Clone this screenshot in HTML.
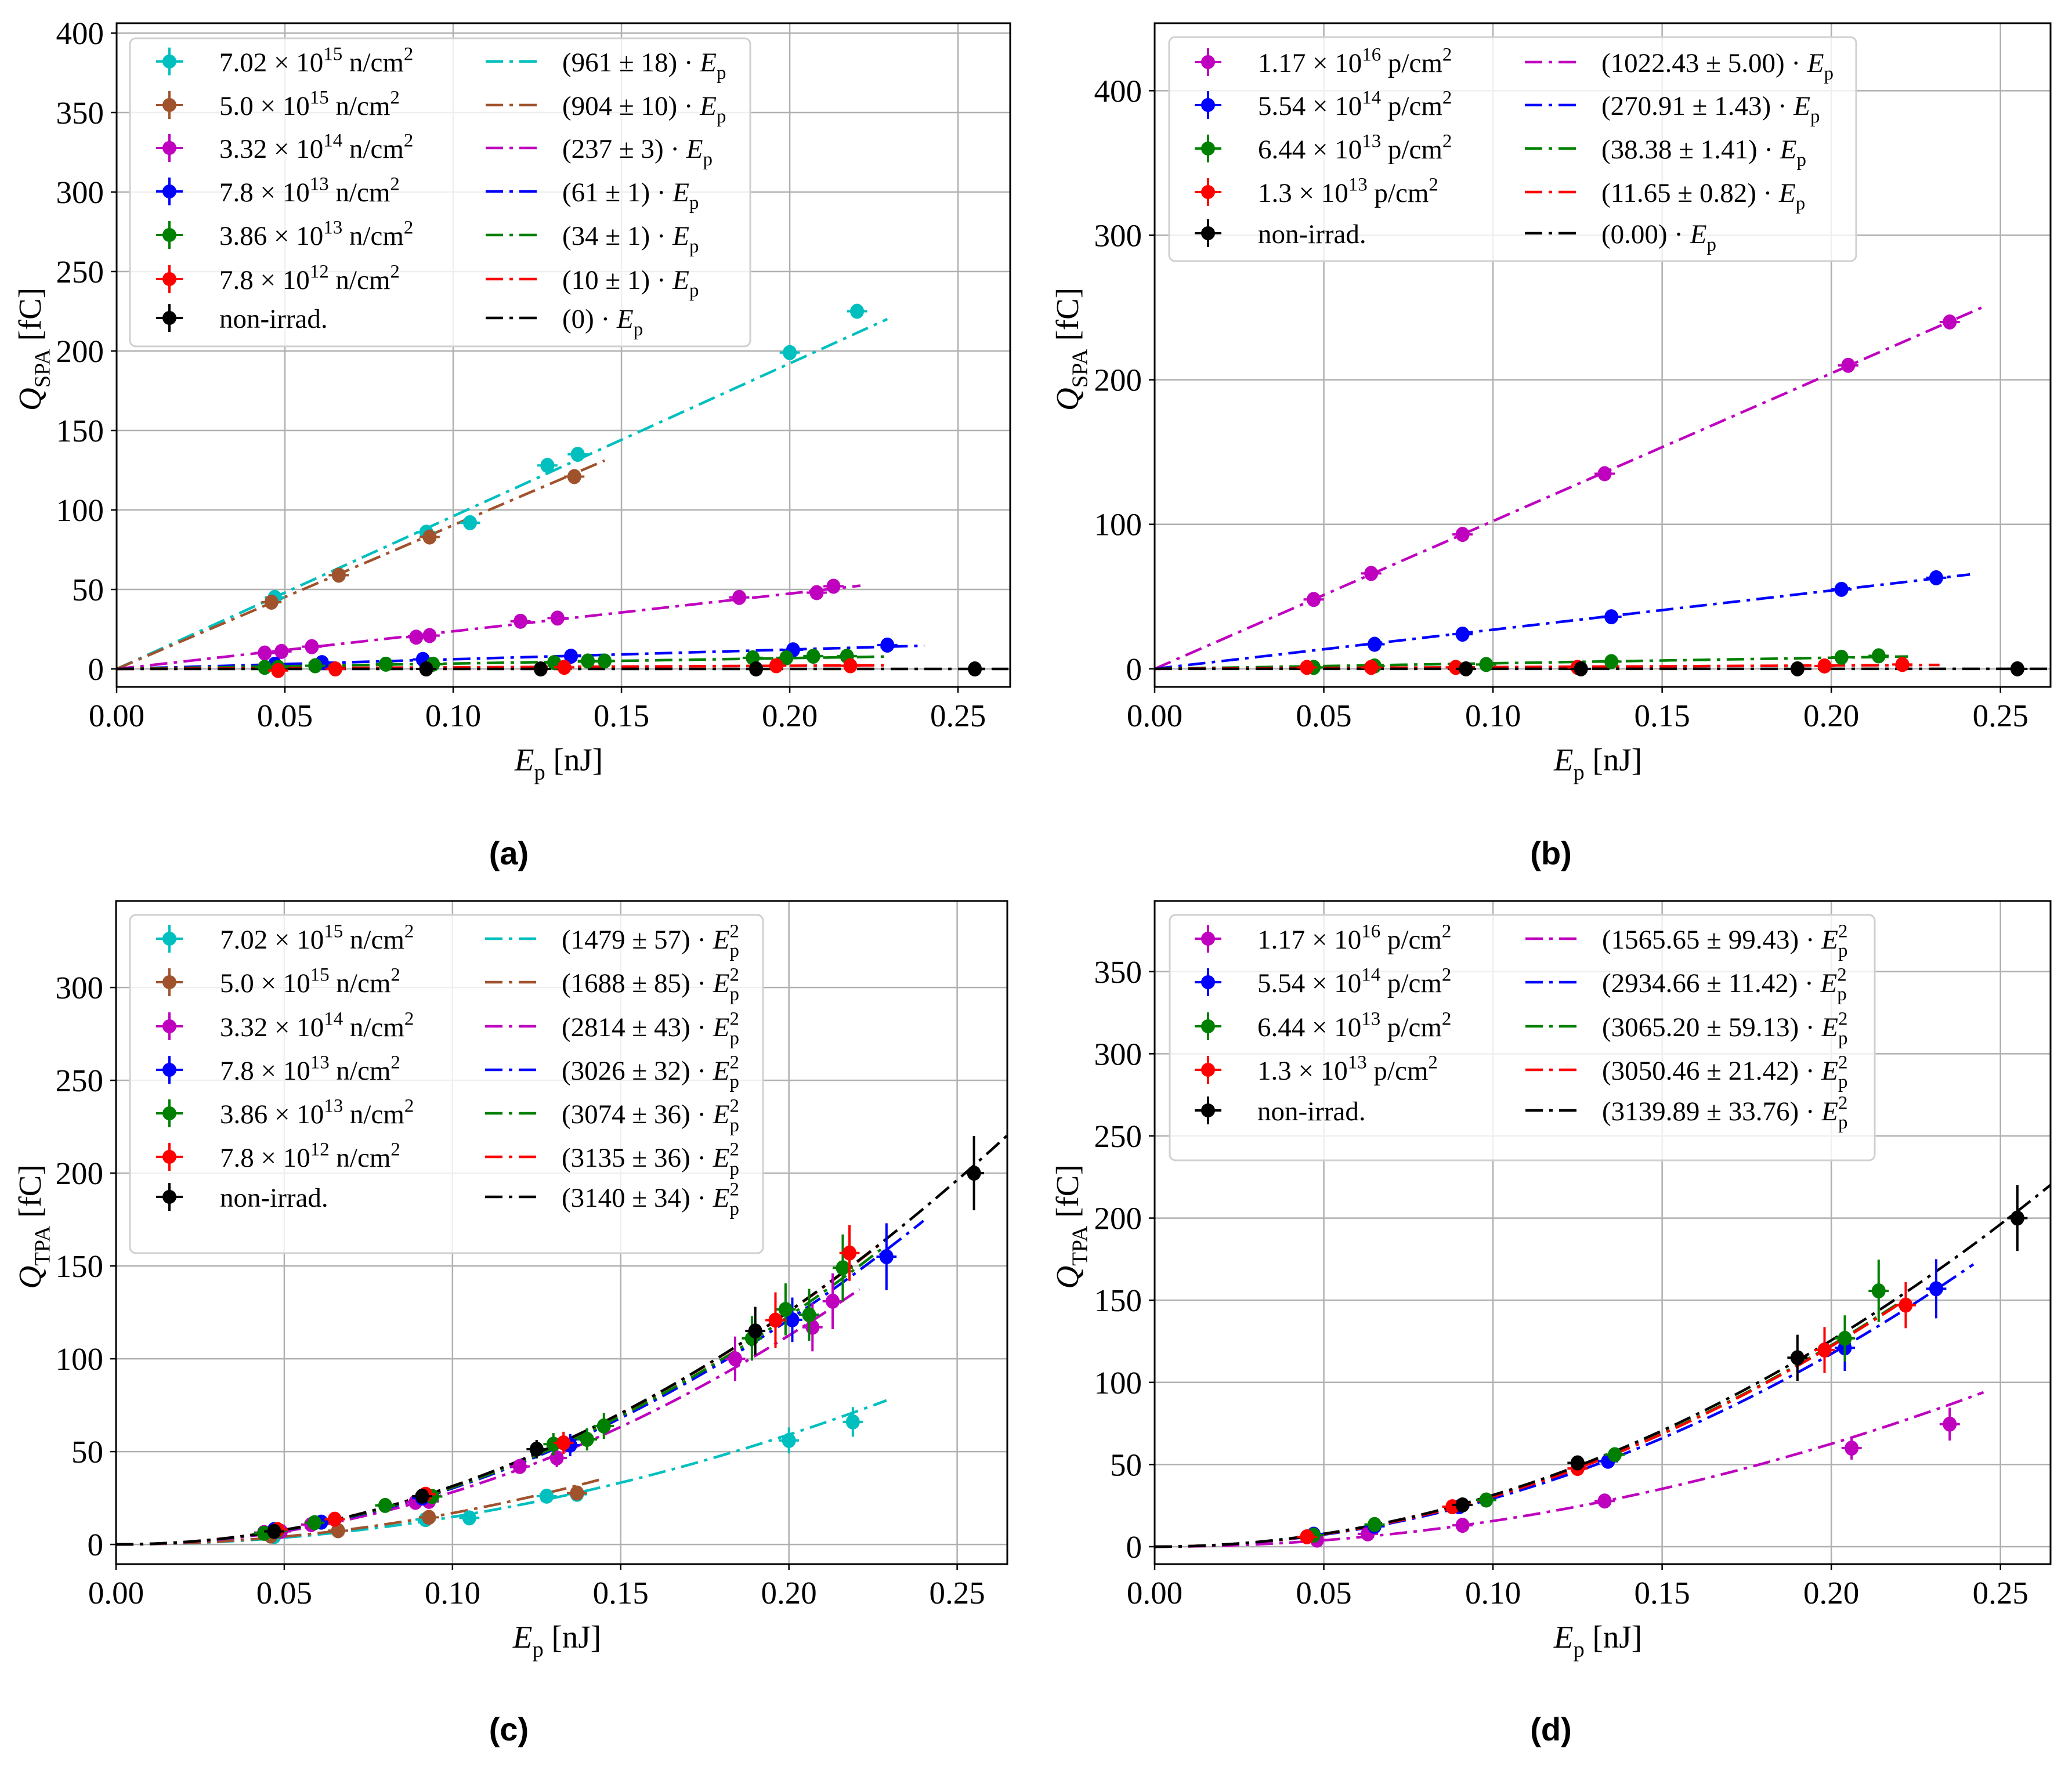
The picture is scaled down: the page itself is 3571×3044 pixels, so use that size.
<!DOCTYPE html>
<html><head><meta charset="utf-8">
<style>
html,body{margin:0;padding:0;background:#fff;}
svg{display:block;font-family:"Liberation Serif","DejaVu Serif",serif;}
</style></head>
<body>
<svg id="fig" width="3571" height="3044" viewBox="0 0 3571 3044" xmlns="http://www.w3.org/2000/svg"></svg>
<script>
// ---------- DATA ----------
// Panel (a): SPA vs Ep, neutron
const A_CYAN_X=[0.047,0.066,0.092,0.105,0.128,0.137,0.200,0.220];
const A_CYAN_Y=[45,59,86,92,128,135,199,225];
const A_BROWN_X=[0.046,0.066,0.093,0.136];
const A_BROWN_Y=[42,59,83,121];
const A_MAG_X=[0.044,0.049,0.058,0.089,0.093,0.120,0.131,0.185,0.208,0.213];
const A_MAG_Y=[10,11,14,20,21,30,32,45,48,52];
const A_BLUE_X=[0.047,0.061,0.091,0.135,0.201,0.229];
const A_BLUE_Y=[3,4,6,8,12,15];
const A_GREEN_X=[0.044,0.048,0.059,0.080,0.094,0.130,0.140,0.145,0.189,0.199,0.207,0.217];
const A_GREEN_Y=[1,1,2,3,3,4,5,5,7,7,8,8];
const A_RED_X=[0.048,0.065,0.092,0.133,0.196,0.218];
const A_RED_Y=[-1,0,0,1,2,2];
const A_BLACK_X=[0.092,0.126,0.190,0.255];
const A_BLACK_Y=[0,0,0,0];
const A_SLOPES=[961,904,237,61,34,10,0];
const A_FIT_END=[0.229,0.145,0.221,0.240,0.228,0.228,0.265];

// Panel (b): SPA vs Ep, proton
const B_MAG_X=[0.047,0.064,0.091,0.133,0.205,0.235];
const B_MAG_Y=[48,66,93,135,210,240];
const B_BLUE_X=[0.065,0.091,0.135,0.203,0.231];
const B_BLUE_Y=[17,24,36,55,63];
const B_GREEN_X=[0.047,0.065,0.098,0.135,0.203,0.214];
const B_GREEN_Y=[1,2,3,5,8,9];
const B_RED_X=[0.045,0.064,0.089,0.125,0.198,0.221];
const B_RED_Y=[1,1,1,1,2,3];
const B_BLACK_X=[0.092,0.126,0.190,0.255];
const B_BLACK_Y=[0,0,0,0];
const B_SLOPES=[1022.43,270.91,38.38,11.65,0];
const B_FIT_END=[0.2445,0.241,0.2227,0.232,0.265];

// Panel (c): TPA vs Ep, neutron
const C_CYAN_X=[0.047,0.066,0.092,0.105,0.128,0.137,0.200,0.219];
const C_CYAN_Y=[4.3,7.4,13.4,14.3,26,27,56,66];
const C_CYAN_E=[1,1,1.5,1.5,2,2,7,8];
const C_BROWN_X=[0.046,0.066,0.093,0.137];
const C_BROWN_Y=[4.5,7.4,14.6,27.7];
const C_BROWN_E=[1,1,1.5,2];
const C_MAG_X=[0.044,0.049,0.058,0.089,0.093,0.120,0.131,0.184,0.207,0.213];
const C_MAG_Y=[6.4,7,10.7,22.7,23.2,42,46.6,100,117,131];
const C_MAG_E=[1,1,2,3,3,4,5,12,13,15];
const C_BLUE_X=[0.047,0.061,0.091,0.135,0.201,0.229];
const C_BLUE_Y=[8,12,25,53.5,121,155];
const C_BLUE_E=[1,2,3,6,12,18];
const C_GREEN_X=[0.044,0.048,0.059,0.080,0.094,0.130,0.140,0.145,0.189,0.199,0.206,0.216];
const C_GREEN_Y=[6,7.4,11.7,21,25.8,54,56.6,63.8,111,126.6,123.7,149];
const C_GREEN_E=[1,1,2,3,3,6,6,7,12,14,14,18];
const C_RED_X=[0.048,0.065,0.092,0.133,0.196,0.218];
const C_RED_Y=[8,13.6,27,54.7,120.8,157];
const C_RED_E=[1,2,3,6,15,15];
const C_BLACK_X=[0.047,0.091,0.125,0.190,0.255];
const C_BLACK_Y=[7,26,51.3,115,200];
const C_BLACK_E=[1,3,5,13,20];
const C_SLOPES=[1479,1688,2814,3026,3074,3135,3140];
const C_FIT_END=[0.229,0.145,0.221,0.240,0.228,0.228,0.265];

// Panel (d): TPA vs Ep, proton
const D_MAG_X=[0.048,0.063,0.091,0.133,0.206,0.235];
const D_MAG_Y=[4,7.8,13,27.8,60,74.6];
const D_MAG_E=[1,1,1.5,2,7,10];
const D_BLUE_X=[0.047,0.065,0.090,0.134,0.204,0.231];
const D_BLUE_Y=[7.6,12.4,24.3,52,121,157];
const D_BLUE_E=[1,1.5,2,4,14,18];
const D_GREEN_X=[0.047,0.065,0.098,0.136,0.204,0.214];
const D_GREEN_Y=[7,13.5,28.4,56,126.8,155.7];
const D_GREEN_E=[1,1.5,2,4,14,19];
const D_RED_X=[0.045,0.088,0.125,0.198,0.222];
const D_RED_Y=[6,24.3,47.6,119.7,147];
const D_RED_E=[1,2,3,14,14];
const D_BLACK_X=[0.091,0.125,0.190,0.255];
const D_BLACK_Y=[25.4,51,115,200];
const D_BLACK_E=[2,4,14,20];
const D_SLOPES=[1565.65,2934.66,3065.20,3050.46,3139.89];
const D_FIT_END=[0.245,0.242,0.222,0.222,0.265];

const X_ERR=0.003;
const X_TICKS=[0,0.05,0.10,0.15,0.20,0.25];

// ---------- RENDER ----------
const NS="http://www.w3.org/2000/svg";
const svg=document.getElementById('fig');
const COL={cyan:'#00bfbf',brown:'#a0522d',mag:'#bf00bf',blue:'#0000ff',green:'#008000',red:'#ff0000',black:'#000000'};
function el(tag,attrs,parent){const e=document.createElementNS(NS,tag);for(const k in attrs)e.setAttribute(k,attrs[k]);(parent||svg).appendChild(e);return e;}

// segments: [text,type] type n|i|sup|sub|E2p
function mathText(parent,x,y,segs,size,anchor){
  const t=el('text',{x:x,y:y,'font-size':size,fill:'#000','text-anchor':anchor||'start'},parent);
  let shift=0;
  for(const [s,type] of segs){
    const ts=document.createElementNS(NS,'tspan');
    if(type==='n'||type==='i'){ts.setAttribute('dy',-shift);shift=0;if(type==='i')ts.setAttribute('font-style','italic');ts.textContent=s;t.appendChild(ts);}
    else if(type==='sup'){const d=-0.42*size;ts.setAttribute('dy',d-shift);shift=d;ts.setAttribute('font-size',size*0.7);ts.textContent=s;t.appendChild(ts);}
    else if(type==='sub'){const d=0.28*size;ts.setAttribute('dy',d-shift);shift=d;ts.setAttribute('font-size',size*0.7);ts.textContent=s;t.appendChild(ts);}
    else if(type==='E2p'){
      const e=document.createElementNS(NS,'tspan');e.setAttribute('dy',-shift);shift=0;e.setAttribute('font-style','italic');e.textContent='E';t.appendChild(e);
      const s2=document.createElementNS(NS,'tspan');s2.setAttribute('dy',-0.42*size);s2.setAttribute('font-size',size*0.7);s2.textContent='2';t.appendChild(s2);
      const sp=document.createElementNS(NS,'tspan');sp.setAttribute('dx',-0.35*size);sp.setAttribute('dy',0.72*size);sp.setAttribute('font-size',size*0.7);sp.textContent='p';t.appendChild(sp);
      shift=0.30*size;
    }
  }
  return t;
}

function makePanel(cfg){
  const g=el('g',{});
  
  
  const L=cfg.left,R=cfg.right,T=cfg.top,B=cfg.bottom;
  const sx=v=>L+(v-cfg.xmin)/(cfg.xmax-cfg.xmin)*(R-L);
  const sy=v=>B-(v-cfg.ymin)/(cfg.ymax-cfg.ymin)*(B-T);
  const clipId='clip-'+cfg.name;
  const cp=el('clipPath',{id:clipId},g);el('rect',{x:L,y:T,width:R-L,height:B-T},cp);
  // grid
  const grid=el('g',{stroke:'#b0b0b0','stroke-width':2.5},g);
  
  X_TICKS.forEach(v=>el('line',{x1:sx(v),x2:sx(v),y1:T,y2:B},grid));
  cfg.yticks.forEach(v=>el('line',{x1:L,x2:R,y1:sy(v),y2:sy(v)},grid));
  // ticks & labels
  const xt=el('g',{},g);
  X_TICKS.forEach(v=>{
    el('line',{x1:sx(v),x2:sx(v),y1:B,y2:B+10,stroke:'#000','stroke-width':2.5},xt);
    const t=el('text',{x:sx(v),y:B+68,'font-size':55,'text-anchor':'middle'},xt);t.textContent=v.toFixed(2);
  });
  const yt=el('g',{},g);
  cfg.yticks.forEach(v=>{
    el('line',{x1:L-10,x2:L,y1:sy(v),y2:sy(v),stroke:'#000','stroke-width':2.5},yt);
    const t=el('text',{x:L-22,y:sy(v)+19,'font-size':55,'text-anchor':'end'},yt);t.textContent=String(v);
  });
  // fit lines
  const plot=el('g',{'clip-path':'url(#'+clipId+')'},g);
  cfg.series.forEach((s,i)=>{
    const pts=[];const n=60;
    for(let k=0;k<=n;k++){const x=cfg.fitEnd[i]*k/n;const y=cfg.slopes[i]*Math.pow(x,cfg.power);pts.push(sx(x).toFixed(1)+','+sy(y).toFixed(1));}
    const pl=el('polyline',{points:pts.join(' '),fill:'none',stroke:s.c,'stroke-width':4.5,'stroke-dasharray':'30 11 6 11'},plot);
    
  });
  // data points
  cfg.series.forEach(s=>{
    const sg=el('g',{fill:s.c,stroke:s.c},plot);
    
    s.x.forEach((xv,j)=>{
      const yv=s.y[j];const ye=s.e?s.e[j]:1;
      el('line',{x1:sx(xv-X_ERR),x2:sx(xv+X_ERR),y1:sy(yv),y2:sy(yv),'stroke-width':4},sg);
      el('line',{x1:sx(xv),x2:sx(xv),y1:sy(yv-ye),y2:sy(yv+ye),'stroke-width':4},sg);
      const c=el('ellipse',{cx:sx(xv),cy:sy(yv),rx:12,ry:13,stroke:'none'},sg);
      
    });
  });
  // spines
  const sp=el('rect',{x:L,y:T,width:R-L,height:B-T,fill:'none',stroke:'#000','stroke-width':3},g);
  
  // legend
  const lg=el('g',{},g);
  const lb=cfg.legendBox;
  el('rect',{x:lb[0],y:lb[1],width:lb[2]-lb[0],height:lb[3]-lb[1],rx:10,fill:'rgba(255,255,255,0.8)',stroke:'#d0d0d0','stroke-width':3},lg);
  cfg.series.forEach((s,i)=>{
    const ry=cfg.legendRows[i];
    const eg=el('g',{fill:s.c,stroke:s.c},lg);
    
    const mx=cfg.legendX[0];
    el('line',{x1:mx-23,x2:mx+23,y1:ry,y2:ry,'stroke-width':4},eg);
    el('line',{x1:mx,x2:mx,y1:ry-24,y2:ry+24,'stroke-width':4},eg);
    el('circle',{cx:mx,cy:ry,r:12,stroke:'none'},eg);
    const t=mathText(eg,cfg.legendX[1],ry+17,s.label,47);t.setAttribute('stroke','none');t.setAttribute('fill','#000');
    const fg=el('g',{},lg);
    
    el('line',{x1:cfg.legendX[2],x2:cfg.legendX[3],y1:ry,y2:ry,stroke:s.c,'stroke-width':4.5,'stroke-dasharray':'30 11 6 11'},fg);
    const fl=cfg.power===1?[[cfg.fitLabels[i]+' · ','n'],['E','i'],['p','sub']]:[[cfg.fitLabels[i]+' · ','n'],['','E2p']];
    mathText(fg,cfg.legendX[4],ry+17,fl,47);
  });
  // axis labels
  const xl=mathText(g,(L+R)/2-8,cfg.xLabelY,[['E','i'],['p','sub'],[' [nJ]','n']],55,'middle');
  
  const yl=mathText(g,0,0,[['Q','i'],[cfg.ysub,'sub'],[' [fC]','n']],55,'middle');
  yl.setAttribute('transform','translate('+cfg.yLabelX+','+((T+B)/2-10)+') rotate(-90)');
  
  const pt=el('text',{x:cfg.tag[0],y:cfg.tag[1],'font-size':56,'font-weight':'bold','text-anchor':'middle','font-family':'Liberation Sans, sans-serif'},g);
  pt.textContent=cfg.tag[2];
  
}
const NL=(m,e)=>[[m+' × 10','n'],[e,'sup'],[' n/cm','n'],['2','sup']];
const PL=(m,e)=>[[m+' × 10','n'],[e,'sup'],[' p/cm','n'],['2','sup']];
const NONIRR=[['non-irrad.','n']];

makePanel({name:'panel-a',left:201,right:1741,top:40,bottom:1184,xmin:0,xmax:0.2655,ymin:-11.3,ymax:406.2,
  yticks:[0,50,100,150,200,250,300,350,400],power:1,slopes:A_SLOPES,fitEnd:A_FIT_END,ysub:'SPA',
  fitLabels:['(961 ± 18)','(904 ± 10)','(237 ± 3)','(61 ± 1)','(34 ± 1)','(10 ± 1)','(0)'],
  legendBox:[224,66,1293,597],legendRows:[106,181,255,330,405,481,548],legendX:[292,378,837,931,969],
  xLabelY:1328,yLabelX:70,tag:[877,1490,'(a)'],
  series:[
   {key:'cyan',c:COL.cyan,x:A_CYAN_X,y:A_CYAN_Y,label:NL('7.02','15')},
   {key:'brown',c:COL.brown,x:A_BROWN_X,y:A_BROWN_Y,label:NL('5.0','15')},
   {key:'magenta',c:COL.mag,x:A_MAG_X,y:A_MAG_Y,label:NL('3.32','14')},
   {key:'blue',c:COL.blue,x:A_BLUE_X,y:A_BLUE_Y,label:NL('7.8','13')},
   {key:'green',c:COL.green,x:A_GREEN_X,y:A_GREEN_Y,label:NL('3.86','13')},
   {key:'red',c:COL.red,x:A_RED_X,y:A_RED_Y,label:NL('7.8','12')},
   {key:'black',c:COL.black,x:A_BLACK_X,y:A_BLACK_Y,label:NONIRR}]});

makePanel({name:'panel-b',left:1990,right:3534,top:40,bottom:1184,xmin:0,xmax:0.2648,ymin:-12.5,ymax:446.7,
  yticks:[0,100,200,300,400],power:1,slopes:B_SLOPES,fitEnd:B_FIT_END,ysub:'SPA',
  fitLabels:['(1022.43 ± 5.00)','(270.91 ± 1.43)','(38.38 ± 1.41)','(11.65 ± 0.82)','(0.00)'],
  legendBox:[2015,64,3199,450],legendRows:[107,181,256,331,402],legendX:[2082,2168,2628,2723,2760],
  xLabelY:1328,yLabelX:1858,tag:[2673,1490,'(b)'],
  series:[
   {key:'magenta',c:COL.mag,x:B_MAG_X,y:B_MAG_Y,label:PL('1.17','16')},
   {key:'blue',c:COL.blue,x:B_BLUE_X,y:B_BLUE_Y,label:PL('5.54','14')},
   {key:'green',c:COL.green,x:B_GREEN_X,y:B_GREEN_Y,label:PL('6.44','13')},
   {key:'red',c:COL.red,x:B_RED_X,y:B_RED_Y,label:PL('1.3','13')},
   {key:'black',c:COL.black,x:B_BLACK_X,y:B_BLACK_Y,label:NONIRR}]});

makePanel({name:'panel-c',left:200,right:1736,top:1553,bottom:2696,xmin:0,xmax:0.2649,ymin:-10.6,ymax:346.6,
  yticks:[0,50,100,150,200,250,300],power:2,slopes:C_SLOPES,fitEnd:C_FIT_END,ysub:'TPA',
  fitLabels:['(1479 ± 57)','(1688 ± 85)','(2814 ± 43)','(3026 ± 32)','(3074 ± 36)','(3135 ± 36)','(3140 ± 34)'],
  legendBox:[224,1577,1315,2160],legendRows:[1618,1693,1769,1844,1919,1994,2063],legendX:[292,379,836,932,968],
  xLabelY:2840,yLabelX:70,tag:[877,3000,'(c)'],
  series:[
   {key:'cyan',c:COL.cyan,x:C_CYAN_X,y:C_CYAN_Y,e:C_CYAN_E,label:NL('7.02','15')},
   {key:'brown',c:COL.brown,x:C_BROWN_X,y:C_BROWN_Y,e:C_BROWN_E,label:NL('5.0','15')},
   {key:'magenta',c:COL.mag,x:C_MAG_X,y:C_MAG_Y,e:C_MAG_E,label:NL('3.32','14')},
   {key:'blue',c:COL.blue,x:C_BLUE_X,y:C_BLUE_Y,e:C_BLUE_E,label:NL('7.8','13')},
   {key:'green',c:COL.green,x:C_GREEN_X,y:C_GREEN_Y,e:C_GREEN_E,label:NL('3.86','13')},
   {key:'red',c:COL.red,x:C_RED_X,y:C_RED_Y,e:C_RED_E,label:NL('7.8','12')},
   {key:'black',c:COL.black,x:C_BLACK_X,y:C_BLACK_Y,e:C_BLACK_E,label:NONIRR}]});

makePanel({name:'panel-d',left:1990,right:3534,top:1553,bottom:2696,xmin:0,xmax:0.2648,ymin:-10.6,ymax:393,
  yticks:[0,50,100,150,200,250,300,350],power:2,slopes:D_SLOPES,fitEnd:D_FIT_END,ysub:'TPA',
  fitLabels:['(1565.65 ± 99.43)','(2934.66 ± 11.42)','(3065.20 ± 59.13)','(3050.46 ± 21.42)','(3139.89 ± 33.76)'],
  legendBox:[2016,1577,3231,2000],legendRows:[1618,1693,1769,1844,1914],legendX:[2082,2167,2629,2727,2761],
  xLabelY:2840,yLabelX:1858,tag:[2673,3000,'(d)'],
  series:[
   {key:'magenta',c:COL.mag,x:D_MAG_X,y:D_MAG_Y,e:D_MAG_E,label:PL('1.17','16')},
   {key:'blue',c:COL.blue,x:D_BLUE_X,y:D_BLUE_Y,e:D_BLUE_E,label:PL('5.54','14')},
   {key:'green',c:COL.green,x:D_GREEN_X,y:D_GREEN_Y,e:D_GREEN_E,label:PL('6.44','13')},
   {key:'red',c:COL.red,x:D_RED_X,y:D_RED_Y,e:D_RED_E,label:PL('1.3','13')},
   {key:'black',c:COL.black,x:D_BLACK_X,y:D_BLACK_Y,e:D_BLACK_E,label:NONIRR}]});
</script>
</body></html>
